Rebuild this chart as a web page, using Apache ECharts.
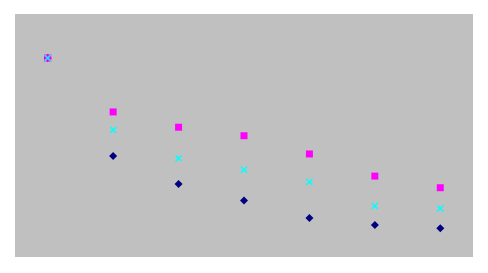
<!DOCTYPE html>
<html><head><meta charset="utf-8">
<script src="https://cdn.jsdelivr.net/npm/echarts@6/dist/echarts.min.js"></script>
<style>html,body{margin:0;padding:0;background:#fff}#c{width:488px;height:273px}</style>
</head><body><div id="c"></div>
<script>
const categories = ['1','2','3','4','5','6','7'];
const navyValues = [81.9, 41.6, 30.0, 23.3, 16.0, 13.2, 11.8];
const magentaValues = [81.9, 59.7, 53.4, 49.9, 42.4, 33.3, 28.5];
const cyanValues = [81.9, 52.3, 40.6, 35.9, 30.9, 21.0, 20.0];

const crossPath = 'path://M0,1.5L1.5,0L5,3.5L8.5,0L10,1.5L6.5,5L10,8.5L8.5,10L5,6.5L1.5,10L0,8.5L3.5,5Z';
const chart = echarts.init(document.getElementById('c'), null, {renderer:'canvas'});
chart.setOption({
  animation:false,
  backgroundColor:'#ffffff',
  grid:{left:15,right:15,top:14,bottom:16,show:true,backgroundColor:'#c0c0c0',borderWidth:0},
  xAxis:{type:'category',data:categories,boundaryGap:true,show:false},
  yAxis:{type:'value',min:0,max:100,show:false},
  series:[
    {type:'scatter',data:navyValues,symbol:'diamond',symbolSize:8,itemStyle:{color:'#000080',opacity:1},z:2},
    {type:'scatter',data:magentaValues,symbol:'rect',symbolSize:7,itemStyle:{color:'#ff00ff',opacity:1},z:3},
    {type:'scatter',data:cyanValues,symbol:crossPath,symbolSize:7,itemStyle:{color:'#00ffff',opacity:1},z:4}
  ]
});
</script></body></html>
